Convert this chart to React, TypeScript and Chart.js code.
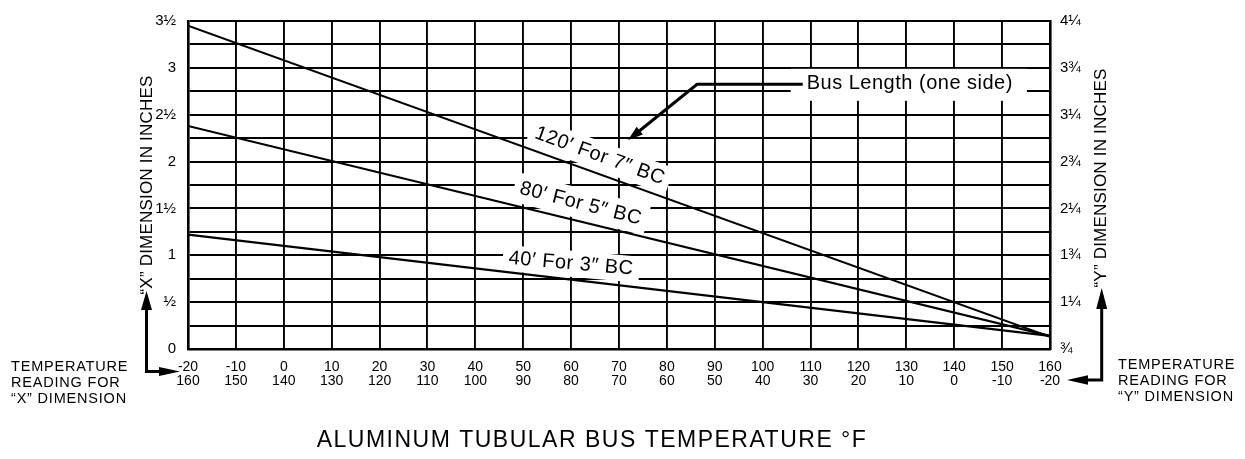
import React, { useEffect, useRef } from "react";
import { Chart, registerables } from "chart.js";

Chart.register(...registerables);

// ---------------- data ----------------
const xReadingTemps = [-20, -10, 0, 10, 20, 30, 40, 50, 60, 70, 80, 90, 100, 110, 120, 130, 140, 150, 160];
const yReadingTemps = [160, 150, 140, 130, 120, 110, 100, 90, 80, 70, 60, 50, 40, 30, 20, 10, 0, -10, -20];
const leftTickValues = [0, 0.5, 1, 1.5, 2, 2.5, 3, 3.5];
const leftTickLabels = ["0", "½", "1", "1½", "2", "2½", "3", "3½"];
const rightTickValues = [0.75, 1.25, 1.75, 2.25, 2.75, 3.25, 3.75, 4.25];
const rightTickLabels = ["¾", "1¼", "1¾", "2¼", "2¾", "3¼", "3¾", "4¼"];

const lineTemps = [-20, 160];
const bus120ft = [3.45, 0.13];
const bus80ft = [2.38, 0.14];
const bus40ft = [1.22, 0.14];
const seriesNames = ["120′ For 7″ BC", "80′ For 5″ BC", "40′ For 3″ BC"];

const xTitle = "ALUMINUM TUBULAR BUS TEMPERATURE °F";
const leftTitle = "“X” DIMENSION IN INCHES";
const rightTitle = "“Y” DIMENSION IN INCHES";
const leftCorner = ["TEMPERATURE", "READING FOR", "“X” DIMENSION"];
const rightCorner = ["TEMPERATURE", "READING FOR", "“Y” DIMENSION"];
const calloutText = "Bus Length (one side)";

// ---------------- layout (not data) ----------------
const FONT = "'Liberation Sans', Arial, Helvetica, sans-serif";
const labelLayout = [
  { t: 66, v: 2.06, angle: 20, padX: 6, h: 28 },
  { t: 62, v: 1.55, angle: 14.5, padX: 6, h: 30 },
  { t: 60, v: 0.91, angle: 5, padX: 6, h: 26 },
];
const callout = { textT: 109.2, v: 2.835, cornerT: 86.3, tipT: 71.9, tipV: 2.23 };

function head(ctx: any, tipX: number, tipY: number, fromX: number, fromY: number, len: number, half: number) {
  const a = Math.atan2(tipY - fromY, tipX - fromX);
  const bx = tipX - len * Math.cos(a);
  const by = tipY - len * Math.sin(a);
  ctx.beginPath();
  ctx.moveTo(tipX, tipY);
  ctx.lineTo(bx + half * Math.sin(a), by - half * Math.cos(a));
  ctx.lineTo(bx - half * Math.sin(a), by + half * Math.cos(a));
  ctx.closePath();
  ctx.fill();
}

const decor = {
  id: "decor",
  beforeDatasetsDraw(chart: any) {
    const { ctx, scales } = chart;
    const x = scales.x;
    const y = scales.y;
    ctx.save();
    ctx.fillStyle = "#fff";
    ctx.font = `20px ${FONT}`;
    ctx.letterSpacing = "0.5px";
    labelLayout.forEach((l, i) => {
      const w = ctx.measureText(seriesNames[i]).width;
      ctx.save();
      ctx.translate(x.getPixelForValue(l.t), y.getPixelForValue(l.v));
      ctx.rotate((l.angle * Math.PI) / 180);
      ctx.fillRect(-w / 2 - l.padX, -l.h / 2, w + 2 * l.padX, l.h);
      ctx.restore();
    });
    const tx = x.getPixelForValue(callout.textT);
    const ty = y.getPixelForValue(callout.v);
    const cw = ctx.measureText(calloutText).width;
    ctx.fillRect(tx - 16, ty - 14.5, cw + 30, 32);
    ctx.restore();
  },
  afterDatasetsDraw(chart: any) {
    const { ctx, scales, chartArea: ca } = chart;
    const x = scales.x;
    const y = scales.y;
    ctx.save();
    ctx.fillStyle = "#000";
    ctx.strokeStyle = "#000";
    // series labels
    ctx.font = `20px ${FONT}`;
    ctx.letterSpacing = "0.5px";
    ctx.textAlign = "center";
    ctx.textBaseline = "middle";
    labelLayout.forEach((l, i) => {
      ctx.save();
      ctx.translate(x.getPixelForValue(l.t), y.getPixelForValue(l.v));
      ctx.rotate((l.angle * Math.PI) / 180);
      ctx.fillText(seriesNames[i], 0, 0);
      ctx.restore();
    });
    // callout
    const tx = x.getPixelForValue(callout.textT);
    const ty = y.getPixelForValue(callout.v);
    ctx.textAlign = "left";
    ctx.fillText(calloutText, tx, ty);
    const ly = ty + 1;
    const cx = x.getPixelForValue(callout.cornerT);
    const tipX = x.getPixelForValue(callout.tipT);
    const tipY = y.getPixelForValue(callout.tipV);
    ctx.lineWidth = 3;
    ctx.lineJoin = "miter";
    const a = Math.atan2(tipY - ly, tipX - cx);
    ctx.beginPath();
    ctx.moveTo(tx - 4, ly);
    ctx.lineTo(cx, ly);
    ctx.lineTo(tipX - 12 * Math.cos(a), tipY - 12 * Math.sin(a));
    ctx.stroke();
    head(ctx, tipX, tipY, cx, ly, 15, 5);

    // axis titles (rotated)
    ctx.font = `17px ${FONT}`;
    ctx.letterSpacing = "0.2px";
    ctx.textAlign = "center";
    ctx.save();
    ctx.translate(ca.left - 41, 185);
    ctx.rotate(-Math.PI / 2);
    ctx.fillText(leftTitle, 0, 0);
    ctx.restore();
    ctx.save();
    ctx.translate(ca.right + 51.7, 178);
    ctx.rotate(-Math.PI / 2);
    ctx.fillText(rightTitle, 0, 0);
    ctx.restore();

    // corner labels
    ctx.font = `14.5px ${FONT}`;
    ctx.letterSpacing = "0.8px";
    ctx.textAlign = "left";
    leftCorner.forEach((s, i) => ctx.fillText(s, 11, 367 + i * 16.2));
    rightCorner.forEach((s, i) => ctx.fillText(s, 1118, 365 + i * 16));

    // corner arrows
    ctx.lineWidth = 3;
    // left
    const lx = ca.left - 41.5;
    ctx.beginPath();
    ctx.moveTo(lx, 308);
    ctx.lineTo(lx, 371.5);
    ctx.lineTo(ca.left - 20, 371.5);
    ctx.stroke();
    head(ctx, lx, 291, lx, 371, 19, 5.5);
    head(ctx, ca.left - 8, 371.5, lx, 371.5, 21, 4.5);
    // right
    const rx = ca.right + 51.7;
    ctx.beginPath();
    ctx.moveTo(rx, 306);
    ctx.lineTo(rx, 380);
    ctx.lineTo(ca.right + 36, 380);
    ctx.stroke();
    head(ctx, rx, 288, rx, 380, 21, 5.5);
    head(ctx, ca.right + 17, 380, rx, 380, 21, 4.7);

    // bottom title
    ctx.font = `23px ${FONT}`;
    ctx.letterSpacing = "1.5px";
    ctx.textAlign = "center";
    ctx.fillText(xTitle, 592, 441);
    ctx.restore();
  },
};

export default function App() {
  const ref = useRef<HTMLCanvasElement | null>(null);
  useEffect(() => {
    if (!ref.current) return;
    const mk = (vals: number[]) => lineTemps.map((t, i) => ({ x: t, y: vals[i] }));
    const lineStyle = {
      borderColor: "#000",
      borderWidth: 2.2,
      pointRadius: 0,
      tension: 0,
      fill: false,
      showLine: true,
    };
    const chart = new Chart(ref.current, {
      type: "line",
      data: {
        datasets: [
          { label: seriesNames[0], data: mk(bus120ft), ...lineStyle },
          { label: seriesNames[1], data: mk(bus80ft), ...lineStyle },
          { label: seriesNames[2], data: mk(bus40ft), ...lineStyle },
        ],
      },
      options: {
        responsive: false,
        maintainAspectRatio: false,
        devicePixelRatio: 1,
        animation: false,
        events: [],
        layout: { padding: { top: 15, left: 0, right: 0, bottom: 0 } },
        plugins: { legend: { display: false }, tooltip: { enabled: false } },
        scales: {
          x: {
            type: "linear",
            position: "bottom",
            min: -20,
            max: 160,
            afterFit: (s: any) => {
              s.height = 110;
            },
            grid: { color: "#000", lineWidth: 1.9, drawTicks: false },
            border: { display: true, color: "#000", width: 2.6 },
            ticks: {
              stepSize: 10,
              autoSkip: false,
              maxRotation: 0,
              minRotation: 0,
              padding: 11,
              color: "#000",
              font: { family: FONT, size: 14, lineHeight: 1 },
              callback: (v: any) => {
                const i = xReadingTemps.indexOf(Math.round(Number(v)));
                return i < 0 ? "" : [String(xReadingTemps[i]), String(yReadingTemps[i])];
              },
            },
          },
          y: {
            type: "linear",
            position: "left",
            min: 0,
            max: 3.5,
            afterFit: (s: any) => {
              s.width = 188;
            },
            grid: { color: "#000", lineWidth: 1.9, drawTicks: false },
            border: { display: true, color: "#000", width: 2.6 },
            ticks: {
              stepSize: 0.25,
              autoSkip: false,
              padding: 12,
              color: "#000",
              font: { family: FONT, size: 15 },
              callback: (v: any) => {
                const i = leftTickValues.findIndex((t) => Math.abs(t - Number(v)) < 1e-6);
                return i < 0 ? "" : leftTickLabels[i];
              },
            },
          },
          y2: {
            type: "linear",
            position: "right",
            min: 0.75,
            max: 4.25,
            afterFit: (s: any) => {
              s.width = 195;
            },
            grid: { display: false, drawTicks: false },
            border: { display: true, color: "#000", width: 2.6 },
            ticks: {
              stepSize: 0.25,
              autoSkip: false,
              padding: 10,
              color: "#000",
              font: { family: FONT, size: 15 },
              callback: (v: any) => {
                const i = rightTickValues.findIndex((t) => Math.abs(t - Number(v)) < 1e-6);
                return i < 0 ? "" : rightTickLabels[i];
              },
            },
          },
        },
      },
      plugins: [decor],
    } as any);
    return () => chart.destroy();
  }, []);
  return (
    <div style={{ position: "absolute", left: 0, top: 0, width: 1245, height: 459, background: "#fff" }}>
      <canvas ref={ref} width={1245} height={459} style={{ display: "block", width: 1245, height: 459 }} />
    </div>
  );
}
